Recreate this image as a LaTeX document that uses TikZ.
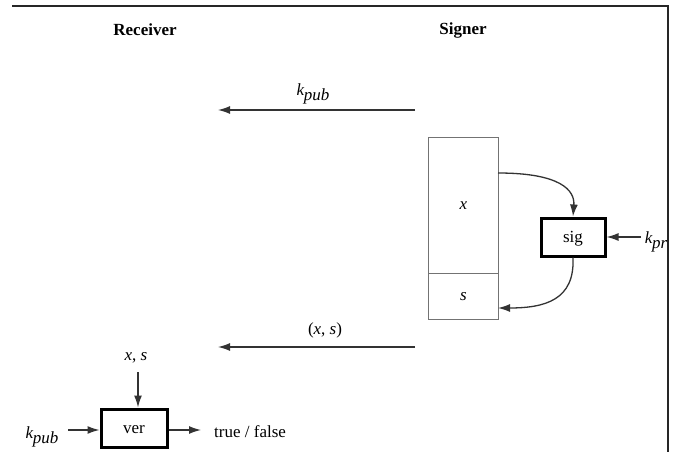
\documentclass[tikz,border=0pt]{standalone}
\usepackage{fontspec}
\setmainfont{Liberation Serif}
\usetikzlibrary{arrows.meta}
\tikzset{
  lbl/.style={inner sep=0pt, font=\fontsize{17}{20}\selectfont},
  hdr/.style={inner sep=0pt, font=\fontsize{17}{20}\selectfont\bfseries},
  thinbox/.style={draw=black!55, line width=1pt, inner sep=0pt},
  fnbox/.style={draw=black, line width=3pt, inner sep=0pt, minimum width=64pt, minimum height=38pt, text height=13pt, text depth=3pt, font=\fontsize{17}{20}\selectfont},
  arr/.style={draw=black!80, line width=1.3pt, -{Latex[length=12pt,width=8pt]}},
  frame/.style={draw=black!85, line width=2pt}
}
\newcommand{\kk}[1]{\textit{k}\kern-0.5pt\raisebox{-5pt}{\textit{#1}}}
\begin{document}
\begin{tikzpicture}[x=1pt,y=-1pt]
\useasboundingbox (0,0) rectangle (678,452);
% frame
\coordinate (fl) at (12,6);
\coordinate (fc) at (668,6);
\coordinate (fb) at (668,452);
\draw[frame] (fl) -- (fc) -- (fb);
% headers
\node[hdr] (recv) at (145,30) {Receiver};
\node[hdr] (sign) at (463,30) {Signer};
% public key transmission
\coordinate (kps) at (415,110);
\coordinate (kpe) at (218,110);
\draw[arr] (kps) -- (kpe);
\node[lbl] (kpl) at (313,94) {\kk{pub}};
% message/signature block
\node[thinbox, minimum width=70pt, minimum height=136pt, anchor=north west] (xbox) at (428,137) {};
\node[thinbox, minimum width=70pt, minimum height=46pt, anchor=north west] (sbox) at (428,273) {};
\node[lbl] (xl) at (xbox.center) {\textit{x}};
\node[lbl] (sl) at (sbox.center) {\textit{s}};
% sig box
\node[fnbox] (sig) at (573,237) {sig};
\node[lbl] (kpr) at (656,242) {\kk{pr}};
\coordinate (kprs) at (641,237);
\draw[arr] (kprs) -- (sig.east);
\coordinate (xout) at (498,173);
\draw[arr] (xout) .. controls (560,173) and (575,190) .. (sig.north);
\coordinate (sin) at (498,308);
\draw[arr] (sig.south) .. controls (575,300) and (545,308) .. (sin);
% (x,s) transmission
\coordinate (xss) at (415,347);
\coordinate (xse) at (218,347);
\draw[arr] (xss) -- (xse);
\node[lbl] (xsl) at (325,330) {(\textit{x}, \textit{s})};
% verification
\node[fnbox, minimum width=66pt, minimum height=38pt] (ver) at (134,428) {ver};
\node[lbl] (xsv) at (136,358) {\textit{x}, \textit{s}};
\coordinate (xsvs) at (138,372);
\draw[arr] (xsvs) -- (xsvs |- ver.north);
\node[lbl] (kpubv) at (42,437) {\kk{pub}};
\coordinate (kvs) at (68,430);
\draw[arr] (kvs) -- (kvs -| ver.west);
\node[lbl, anchor=west] (tf) at (214,432) {true / false};
\coordinate (tfe) at (201,430);
\draw[arr] (ver.east |- tfe) -- (tfe);
\end{tikzpicture}
\end{document}
